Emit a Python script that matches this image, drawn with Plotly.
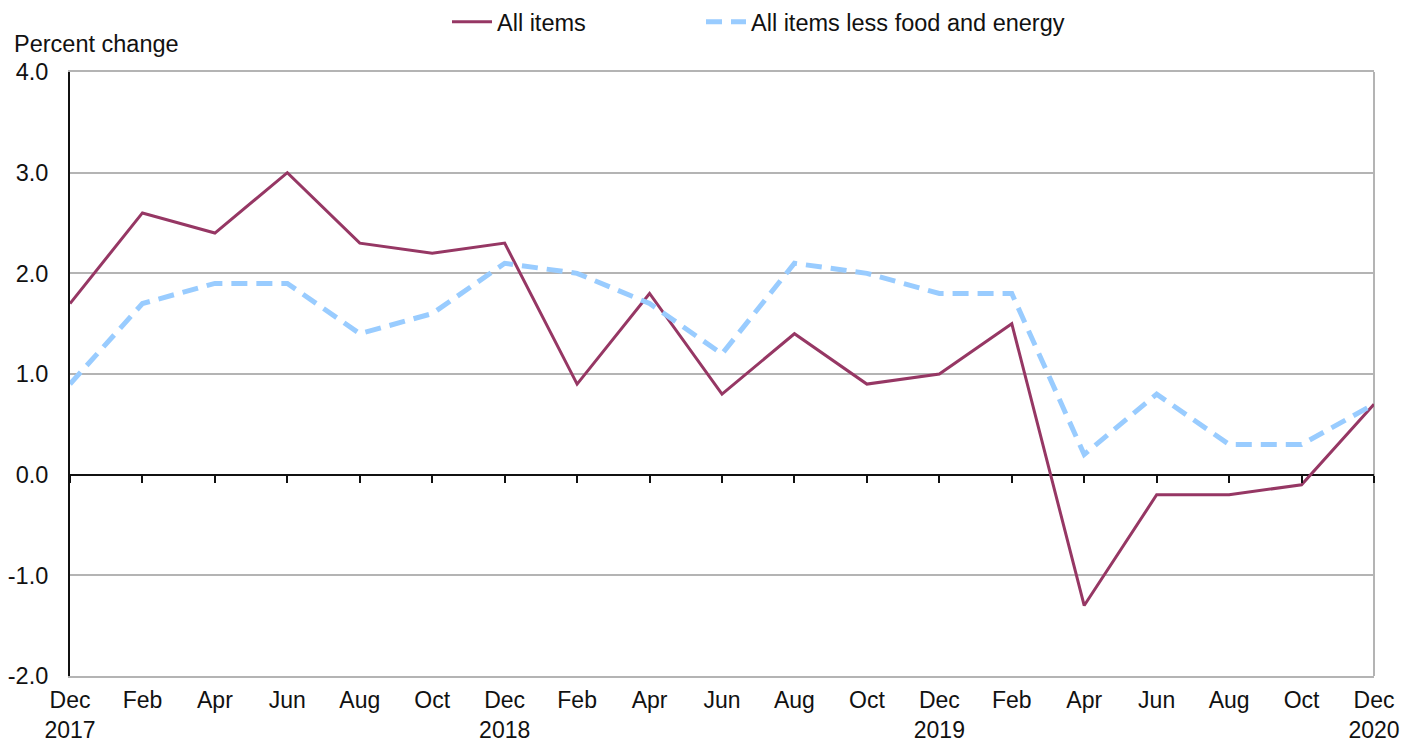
import plotly.graph_objects as go

months = ["Dec", "Feb", "Apr", "Jun", "Aug", "Oct", "Dec", "Feb", "Apr", "Jun",
          "Aug", "Oct", "Dec", "Feb", "Apr", "Jun", "Aug", "Oct", "Dec"]
years = ["2017", "", "", "", "", "", "2018", "", "", "", "", "", "2019", "", "", "", "", "", "2020"]
all_items = [1.7, 2.6, 2.4, 3.0, 2.3, 2.2, 2.3, 0.9, 1.8, 0.8, 1.4, 0.9, 1.0, 1.5,
             -1.3, -0.2, -0.2, -0.1, 0.7]
core = [0.9, 1.7, 1.9, 1.9, 1.4, 1.6, 2.1, 2.0, 1.7, 1.2, 2.1, 2.0, 1.8, 1.8,
        0.2, 0.8, 0.3, 0.3, 0.7]
y_ticks = [-2, -1, 0, 1, 2, 3, 4]

x = list(range(len(months)))
tick_text = [m + ("<br>" + y if y else "<br> ") for m, y in zip(months, years)]

FONT = "Liberation Sans, Arial, sans-serif"
FS = 23.5
XFS = 23
TXT = "#111111"
MAROON = "#963764"
BLUE = "#99CCFF"
GRID = "#b4b4b4"
W, H = 1401, 742

fig = go.Figure()
fig.add_trace(go.Scatter(x=x, y=all_items, mode="lines", name="All items",
                         line=dict(color=MAROON, width=3), xaxis="x", yaxis="y",
                         cliponaxis=False, legend="legend"))
fig.add_trace(go.Scatter(x=x, y=core, mode="lines", name="All items less food and energy",
                         line=dict(color=BLUE, width=5, dash="16px,9px"), xaxis="x2", yaxis="y",
                         cliponaxis=False, legend="legend2"))

leg_common = dict(orientation="h", xref="container", yref="container",
                  xanchor="left", yanchor="middle", itemwidth=40,
                  font=dict(family=FONT, size=FS, color=TXT),
                  bgcolor="rgba(0,0,0,0)")

fig.update_layout(
    width=W, height=H,
    margin=dict(l=70, r=27, t=72, b=66, autoexpand=False),
    paper_bgcolor="white", plot_bgcolor="white",
    font=dict(family=FONT, size=FS, color=TXT),
    showlegend=True,
    legend=dict(x=447 / W, y=1 - 22 / H, **leg_common),
    legend2=dict(x=701 / W, y=1 - 22 / H, **leg_common),
    xaxis=dict(range=[0, len(months) - 1], tickmode="array", tickvals=x, ticktext=tick_text,
               showgrid=False, zeroline=False, showline=True, linecolor=GRID,
               linewidth=2, mirror=True, ticks="", ticklabelstandoff=2, automargin=False,
               tickfont=dict(family=FONT, size=XFS, color=TXT)),
    xaxis2=dict(range=[0, len(months) - 1], overlaying="x", anchor="free", position=1/3,
                tickmode="array", tickvals=x, showticklabels=False, ticks="outside",
                ticklen=7, tickwidth=2, tickcolor=TXT, showgrid=False,
                zeroline=False, showline=False, automargin=False),
    yaxis=dict(range=[-2, 4], tickmode="array", tickvals=y_ticks,
               ticktext=[f"{v:.1f}" for v in y_ticks],
               showgrid=True, gridcolor=GRID, gridwidth=2,
               zeroline=True, zerolinecolor=TXT, zerolinewidth=2,
               showline=True, linecolor=TXT, linewidth=2, ticks="",
               ticklabelstandoff=15, automargin=False,
               tickfont=dict(family=FONT, size=FS, color=TXT)),
)

# right-hand frame edge of the plotting area
fig.add_shape(type="line", xref="x domain", yref="y domain", x0=1, x1=1, y0=0, y1=1,
              line=dict(color=GRID, width=2), layer="below")

fig.add_annotation(text="Percent change", xref="paper", yref="paper", x=0, y=1,
                   xshift=-58, yshift=28, xanchor="left", yanchor="middle",
                   showarrow=False, font=dict(family=FONT, size=FS, color=TXT))

# remove the default page margin so the figure fills the window exactly
fig.write_html("out.html", config={"displayModeBar": False},
               post_script="document.body.style.margin='0';document.body.style.overflow='hidden';")
